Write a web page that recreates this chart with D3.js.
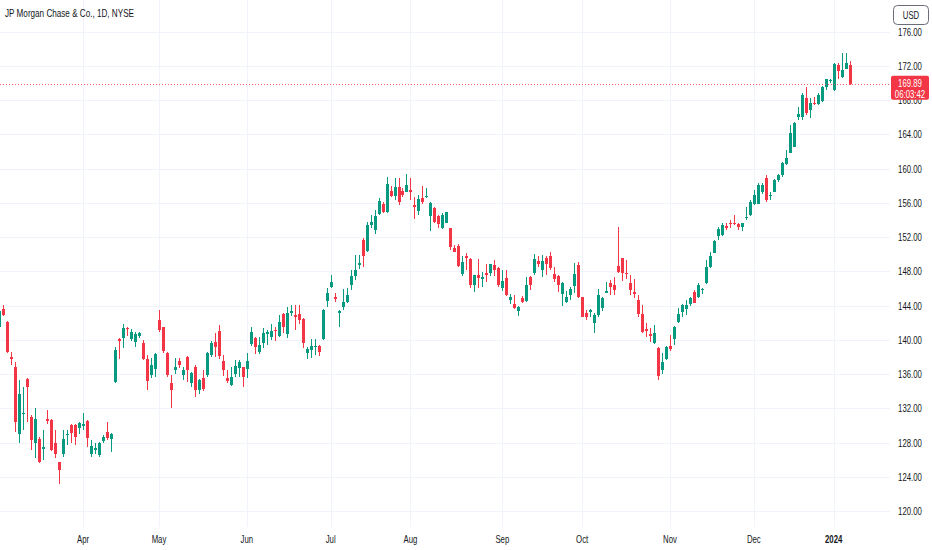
<!DOCTYPE html>
<html><head><meta charset="utf-8">
<script src="https://cdn.jsdelivr.net/npm/d3@7"></script>
<style>
html,body{margin:0;padding:0;background:#fff;}
svg{display:block;}
text{font-family:"Liberation Sans",Arial,sans-serif;fill:#131722;}
</style></head><body>
<svg id="chart" width="932" height="550"></svg>
<script>
const title = "JP Morgan Chase & Co., 1D, NYSE";
const startDate = "2023-03-03";
const holidays = ["2023-04-07","2023-05-29","2023-06-19","2023-07-04","2023-09-04","2023-11-23","2023-12-25","2024-01-01"];
const monthLabels = ["Apr","May","Jun","Jul","Aug","Sep","Oct","Nov","Dec","2024"];
const priceTicks = [120,124,128,132,136,140,144,148,152,156,160,164,168,172,176];
const lastPrice = 169.89;
const countdown = "06:03:42";
const currency = "USD";

const open = [141.5,143.55,142.1,138.0,136.78,128.99,131.3,135.38,131.02,127.98,
128.37,127.2,130.7,130.63,127.9,125.7,126.7,128.9,130.04,130.0,
129.7,129.9,130.55,126.7,127.1,126.5,128.2,129.2,128.4,135.1,
140.05,140.24,141.4,140.05,139.77,140.4,139.66,137.7,135.9,136.54,
142.3,141.45,138.49,134.99,136.47,137.5,135.88,138.0,134.9,136.86,
134.13,135.5,135.88,138.2,139.77,141.06,137.56,135.5,134.7,136.0,
136.66,136.78,136.54,139.5,140.17,138.6,139.58,140.67,140.36,141.14,
140.48,143.0,140.67,143.08,142.85,142.97,142.38,138.49,138.8,139.1,
139.27,140.05,144.56,146.2,145.03,143.08,143.86,144.45,146.4,147.45,
148.73,151.65,150.4,153.4,152.8,154.7,155.85,154.96,157.41,156.8,
157.88,157.4,157.3,157.5,155.7,155.08,156.5,156.7,154.4,155.35,
154.45,153.1,153.67,153.0,150.7,150.95,147.68,149.78,149.43,146.4,
147.56,147.05,147.76,147.76,148.73,148.34,146.0,147.2,144.64,144.2,
143.4,144.84,144.56,147.3,147.83,149.2,148.14,149.6,149.78,147.68,
147.44,145.34,144.45,145.23,146.28,148.73,144.95,143.16,143.28,142.0,
142.89,143.67,145.5,146.67,146.4,148.6,149.6,147.76,146.67,145.6,
144.64,143.0,141.3,140.67,139.66,139.0,136.47,137.7,139.27,140.05,
142.11,143.28,143.55,144.17,145.6,145.03,145.85,146.6,148.53,150.17,
152.1,152.23,153.28,153.6,153.65,153.5,153.2,154.18,154.57,155.85,
155.9,157.3,158.93,156.8,157.3,158.65,159.24,160.52,161.85,162.55,
165.97,166.05,168.2,166.83,167.7,167.53,167.92,169.56,170.2,169.17,
172.09,170.7,171.6,172.09];

const high = [143.8,144.06,142.23,138.6,137.44,135.3,134.5,135.5,131.2,131.99,
128.7,129.46,131.8,130.7,129.5,125.7,129.5,129.5,130.2,130.2,
130.4,131.5,130.6,128.3,127.98,128.1,128.9,130.4,129.07,139.2,
140.2,141.84,141.5,141.3,140.94,140.94,139.97,138.2,137.9,138.4,
143.5,141.5,138.6,135.9,137.9,137.9,136.86,138.1,136.27,137.05,
135.38,136.47,138.6,139.8,140.75,141.72,138.2,136.47,136.86,137.6,
137.6,136.86,138.4,141.5,140.36,140.36,141.33,141.1,141.84,141.5,
142.89,143.16,143.86,144.06,144.06,144.06,142.5,139.2,140.05,140.05,
139.4,143.55,146.1,147.56,145.5,143.47,145.9,146.0,148.1,149.9,
149.9,151.85,153.8,154.57,155.2,156.5,156.1,158.97,157.9,158.85,
158.85,157.7,159.4,158.85,156.7,156.9,157.95,157.7,156.1,155.5,
154.57,154.8,154.96,153.1,151.1,151.2,149.8,150.17,149.6,147.6,
149.4,147.95,148.9,148.9,149.3,148.5,148.1,148.2,145.4,145.23,
143.94,145.1,147.37,147.44,150.0,149.78,149.9,149.78,150.3,148.5,
147.56,146.8,145.73,146.2,149.0,149.1,145.03,143.47,143.55,143.08,
145.89,144.95,146.8,146.98,147.3,153.2,149.6,149.3,147.56,147.05,
145.23,144.06,141.9,141.33,141.7,139.2,138.49,139.27,140.55,141.6,
143.67,144.17,144.64,145.03,145.8,146.6,146.1,149.3,150.3,151.65,
153.2,153.67,153.6,153.98,154.57,153.67,153.67,155.5,156.3,157.5,
158.27,158.34,159.24,157.3,158.73,159.4,160.8,162.16,165.08,165.47,
167.2,168.8,169.56,168.2,168.3,168.8,169.6,170.5,170.5,172.3,
172.3,173.45,173.5,172.5];

const low = [141.0,142.8,138.4,137.0,129.26,127.9,129.5,130.4,127.1,126.15,
125.57,125.96,130.2,127.0,126.15,123.2,126.3,127.7,127.9,127.7,
129.0,129.5,127.5,126.3,126.7,126.3,128.0,128.3,126.9,134.9,
137.8,139.0,140.4,139.8,139.19,140.2,137.63,134.1,135.5,135.6,
140.9,138.5,135.6,132.0,136.0,136.66,135.3,135.1,134.5,133.27,
133.7,134.05,135.7,138.0,138.0,137.8,135.77,134.9,134.6,135.7,
135.7,134.5,135.5,139.27,138.3,138.3,139.0,139.4,139.97,139.9,
140.36,140.75,140.17,142.77,141.14,141.84,139.0,137.7,137.83,138.2,
138.1,139.97,143.8,146.0,144.45,141.5,143.47,144.25,145.8,147.0,
148.3,148.5,150.3,153.0,152.35,154.57,154.8,154.84,156.7,156.3,
155.7,156.7,157.2,156.3,154.1,154.57,155.9,156.6,152.7,153.6,
153.1,152.9,153.6,150.5,150.2,148.5,147.4,148.2,146.0,145.6,
146.0,146.2,146.8,147.4,147.4,146.2,145.7,145.1,144.2,143.55,
142.77,144.25,144.45,145.8,147.56,148.5,147.37,147.56,148.14,146.8,
145.6,143.9,144.33,144.64,145.5,144.84,142.6,142.3,142.7,140.75,
142.6,143.4,145.42,145.2,145.2,147.83,146.9,147.05,145.23,144.84,
142.7,140.75,140.36,139.77,139.5,135.3,136.0,137.63,138.7,139.4,
141.9,142.7,142.9,143.94,144.25,144.84,145.4,146.5,148.34,150.09,
151.7,152.1,152.8,153.0,153.4,152.8,152.74,153.98,154.45,155.7,
155.85,157.0,156.13,156.32,157.2,158.45,159.05,160.4,161.77,162.47,
165.66,165.66,166.25,165.86,167.4,167.4,167.8,169.17,169.95,169.1,
170.5,170.6,171.58,169.8];

const close = [143.3,142.9,138.6,137.75,130.43,133.66,131.45,134.52,128.29,130.74,
125.76,127.5,130.55,127.12,126.7,124.8,128.4,129.0,129.07,128.7,
130.3,130.2,128.5,127.6,127.4,127.9,128.6,128.5,129.0,138.8,
139.85,141.41,141.2,140.94,140.63,140.8,137.71,135.2,137.05,138.34,
141.1,138.7,135.88,134.13,136.86,137.05,136.47,136.47,136.15,134.13,
135.3,134.2,138.49,139.58,139.19,138.1,136.47,135.2,135.7,136.93,
137.44,135.7,137.56,140.9,139.19,139.39,140.75,140.87,141.02,141.02,
142.11,141.45,143.08,143.36,142.7,142.3,139.58,138.88,139.27,139.27,
138.6,143.47,145.5,146.7,144.72,143.3,144.45,145.2,147.45,148.2,
149.0,149.78,153.4,153.8,154.4,156.2,154.96,158.19,156.83,157.88,
156.13,156.9,158.07,157.3,155.5,156.4,156.1,156.8,156.0,153.8,
153.5,154.57,154.88,150.8,150.3,148.6,149.04,149.5,146.4,147.56,
147.2,147.37,147.6,148.85,148.1,146.4,146.9,145.23,145.03,143.67,
143.8,144.45,146.4,146.4,149.39,148.85,149.2,148.85,148.34,147.05,
146.4,146.6,145.03,145.89,147.68,145.03,142.7,142.7,143.47,142.89,
145.23,144.84,145.73,146.2,145.8,147.95,147.76,147.64,145.8,145.34,
143.0,140.94,141.06,140.44,140.83,135.77,137.44,139.1,138.88,141.5,
143.0,144.06,144.06,144.84,144.33,146.4,145.9,148.45,149.78,151.57,
152.9,153.4,153.0,153.5,153.58,153.2,153.6,154.37,156.13,156.9,
158.07,158.07,156.32,156.9,158.65,159.24,160.6,161.19,164.1,165.35,
166.36,168.6,166.5,167.6,167.5,168.6,169.56,170.4,170.3,172.2,
171.4,171.5,172.36,169.89];

const UP = "#089981", DOWN = "#f23645", GRID = "#f0f3fa";
const W = 932, H = 550, paneRight = 890, paneBottom = 527;
const TITLE_WIDTH = 129; // rendered width of the condensed title

// trading calendar
const fmt = d3.timeFormat("%Y-%m-%d");
const hol = new Set(holidays);
const dates = [];
let d = d3.timeParse("%Y-%m-%d")(startDate);
while (dates.length < close.length) {
  const wd = d.getDay();
  if (wd !== 0 && wd !== 6 && !hol.has(fmt(d))) dates.push(d);
  d = d3.timeDay.offset(d, 1);
}
const data = dates.map((dt, i) => ({date: dt, o: open[i], h: high[i], l: low[i], c: close[i]}));
const monthStarts = dates.filter((dt, i) => i > 0 && dt.getMonth() !== dates[i - 1].getMonth());

const x = d3.scaleBand().domain(dates).range([-2.7, 851.6]).padding(0);
const y = d3.scaleLinear().domain([120, 176]).range([511, 31.5]);
const cx = dt => Math.round(x(dt) + x.bandwidth() / 2);

const svg = d3.select("#chart");
svg.append("rect").attr("width", W).attr("height", H).attr("fill", "#fff");

svg.append("defs").append("clipPath").attr("id", "pane")
  .append("rect").attr("x", 0).attr("y", 0).attr("width", paneRight).attr("height", paneBottom);

const pane = svg.append("g").attr("clip-path", "url(#pane)");

// grid
pane.selectAll("line.hg").data(priceTicks).join("line").attr("class", "hg")
  .attr("x1", 0).attr("x2", paneRight)
  .attr("y1", v => Math.round(y(v)) + 0.5).attr("y2", v => Math.round(y(v)) + 0.5)
  .attr("stroke", GRID).attr("stroke-width", 1);
pane.selectAll("line.vg").data(monthStarts).join("line").attr("class", "vg")
  .attr("x1", dt => cx(dt) + 0.5).attr("x2", dt => cx(dt) + 0.5)
  .attr("y1", 0).attr("y2", paneBottom)
  .attr("stroke", GRID).attr("stroke-width", 1);

// candles
const cg = pane.append("g").attr("shape-rendering", "crispEdges");
const col = dd => dd.c >= dd.o ? UP : DOWN;
cg.selectAll("rect.wick").data(data).join("rect").attr("class", "wick")
  .attr("x", dd => cx(dd.date)).attr("width", 1)
  .attr("y", dd => Math.round(y(dd.h)))
  .attr("height", dd => Math.max(1, Math.round(y(dd.l)) - Math.round(y(dd.h))))
  .attr("fill", col);
cg.selectAll("rect.body").data(data).join("rect").attr("class", "body")
  .attr("x", dd => cx(dd.date) - 1).attr("width", 3)
  .attr("y", dd => Math.round(y(Math.max(dd.o, dd.c))))
  .attr("height", dd => Math.max(1, Math.round(y(Math.min(dd.o, dd.c))) - Math.round(y(Math.max(dd.o, dd.c)))))
  .attr("fill", col);

// last price line
pane.append("line")
  .attr("x1", 0).attr("x2", paneRight)
  .attr("y1", Math.round(y(lastPrice)) + 0.5).attr("y2", Math.round(y(lastPrice)) + 0.5)
  .attr("stroke", DOWN).attr("stroke-width", 1).attr("stroke-dasharray", "1,2").attr("opacity", 0.8);

// price axis
const yAxis = d3.axisRight(y).tickValues(priceTicks).tickFormat(d3.format(".2f")).tickSize(0).tickPadding(0);
const ya = svg.append("g").attr("transform", `translate(${paneRight},0)`).call(yAxis);
ya.select(".domain").remove();
ya.selectAll("text").attr("x", 20).attr("text-anchor", "middle")
  .attr("font-size", 11).style("font-family", null).attr("fill", "#131722");

// time axis
const xAxis = d3.axisBottom(x).tickValues(monthStarts)
  .tickFormat((dt, i) => monthLabels[i]).tickSize(0).tickPadding(8);
const xa = svg.append("g").attr("transform", `translate(0,${paneBottom})`).call(xAxis);
xa.select(".domain").remove();
xa.selectAll("text").attr("font-size", 11).style("font-family", null).attr("fill", "#131722")
  .attr("font-weight", (dt, i) => monthLabels[i].length === 4 ? "bold" : null);

// last price badge
const ly = y(lastPrice);
svg.append("rect").attr("x", 891).attr("y", ly - 8).attr("width", 38).attr("height", 24).attr("rx", 2).attr("fill", DOWN);
svg.append("text").attr("x", 910).attr("y", ly + 3).attr("text-anchor", "middle").attr("font-size", 11)
  .style("fill", "#fff").text(d3.format(".2f")(lastPrice));
svg.append("text").attr("x", 910).attr("y", ly + 14).attr("text-anchor", "middle").attr("font-size", 11)
  .style("fill", "#fff").text(countdown);

// currency button
svg.append("rect").attr("x", 893.5).attr("y", 5.5).attr("width", 35).attr("height", 19).attr("rx", 4)
  .attr("fill", "#fff").attr("stroke", "#6a6d78").attr("stroke-width", 1);
svg.append("text").attr("x", 911).attr("y", 19).attr("text-anchor", "middle").attr("font-size", 11).text(currency);

// title
const titleText = svg.append("text").attr("x", 5).attr("y", 17).attr("font-size", 11.5).attr("font-weight", 500).text(title);

// condense all text to match the narrow UI face
const k = TITLE_WIDTH / titleText.node().getComputedTextLength();
svg.selectAll("text").each(function() {
  const w = this.getComputedTextLength();
  this.setAttribute("textLength", (w * k).toFixed(2));
  this.setAttribute("lengthAdjust", "spacingAndGlyphs");
});
</script>
</body></html>
